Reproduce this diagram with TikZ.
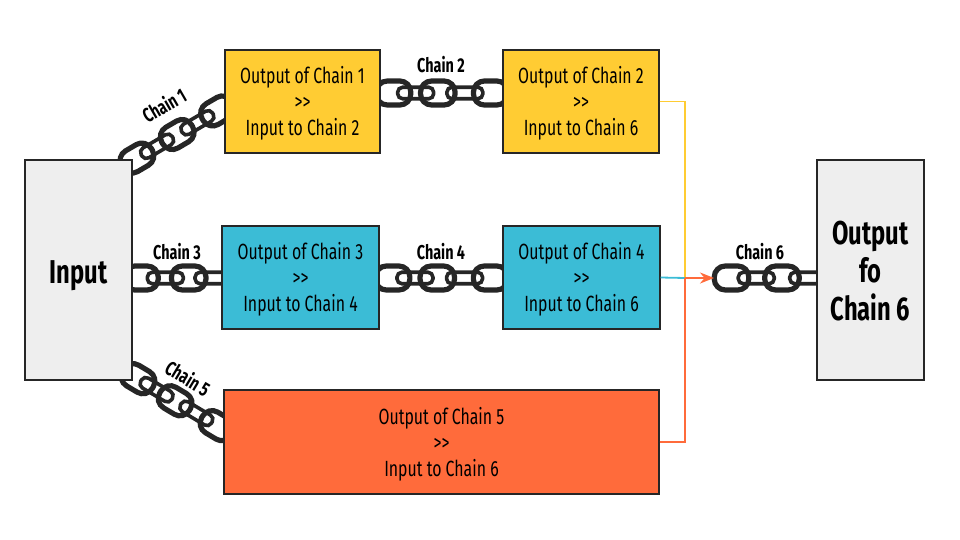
\documentclass[tikz,border=0pt]{standalone}
\usepackage{fontspec}
\setmainfont[FakeStretch=0.72]{Fira Sans}
\usetikzlibrary{positioning,arrows.meta}
\definecolor{chainyellow}{HTML}{FFCC33}
\definecolor{chainteal}{HTML}{3BBCD6}
\definecolor{chainorange}{HTML}{FF6B3B}
\definecolor{chaingrey}{HTML}{EEEEEE}
\definecolor{chaindark}{HTML}{262626}
\tikzset{
  stagebox/.style={
    draw=black!85, line width=1.2pt,
    inner sep=0pt, align=center,
    font=\fontsize{22}{26}\selectfont
  },
  endbox/.style={
    stagebox, fill=chaingrey,
    minimum width=107, minimum height=220,
    font=\fontsize{33}{38}\selectfont\bfseries
  },
  linkopen/.style={
    draw=chaindark, line width=5.2pt, rounded corners=11pt,
    minimum width=34.5, minimum height=24, inner sep=0pt
  },
  linkflat/.style={
    draw=chaindark, line width=3.6pt, rounded corners=5pt,
    minimum width=36, minimum height=11.5, inner sep=0pt
  },
  chainlabel/.style={font=\fontsize{20}{20}\selectfont\bfseries, inner sep=0pt},
  feed/.style={line width=1.8pt}
}
% three lines of a box, with room above the first
\newcommand{\stagetext}[2]{\rule{0pt}{21pt}#1\\>{}>\\#2}
% one chain: flat links and open links at positions along a line
\newcommand{\chainrun}[5]{
  \foreach \p [count=\i] in {#4}
    \path (#1) -- (#2) node[linkflat, sloped, pos=\p] (#3f\i) {};
  \foreach \p [count=\i] in {#5}
    \path (#1) -- (#2) node[linkopen, sloped, pos=\p] (#3o\i) {};
}
\begin{document}
\begin{tikzpicture}[x=1pt,y=-1pt]
\useasboundingbox (0,0) rectangle (960,540);
% chain ends
\coordinate (c1a) at (120,168);
\coordinate (c1b) at (226,106);
\coordinate (c2a) at (380,93);
\coordinate (c2b) at (503,93);
\coordinate (c3a) at (132,278);
\coordinate (c3b) at (222,278);
\coordinate (c4a) at (379,278);
\coordinate (c4b) at (503,278);
\coordinate (c5a) at (120,368);
\coordinate (c5b) at (226,431);
\coordinate (c6a) at (714,278);
\coordinate (c6b) at (817,278);
\chainrun{c1a}{c1b}{ca}{0.35,0.73}{0.16,0.54,0.92}
\chainrun{c2a}{c2b}{cb}{0.29,0.69}{0.11,0.47,0.9}
\chainrun{c3a}{c3b}{cc}{0.37,0.9}{0.1,0.63}
\chainrun{c4a}{c4b}{cd}{0.29,0.69}{0.11,0.47,0.9}
\chainrun{c5a}{c5b}{ce}{0.345,0.72}{0.17,0.52,0.915}
\chainrun{c6a}{c6b}{cf}{0.41,0.91}{0.17,0.66}
% boxes
\node[endbox, text height=27pt, text depth=0pt] (input) at (78.5,270) {Input};
\node[endbox] (output) at (870.5,270) {\rule{0pt}{26pt}Output\\fo\\Chain 6};
\node[stagebox, fill=chainyellow, minimum width=155, minimum height=103] (outa) at (302.5,101.5) {\stagetext{Output of Chain 1}{Input to Chain 2}};
\node[stagebox, fill=chainyellow, minimum width=156, minimum height=103] (outb) at (581,101.5) {\stagetext{Output of Chain 2}{Input to Chain 6}};
\node[stagebox, fill=chainteal, minimum width=157, minimum height=103] (outc) at (300.5,277.5) {\stagetext{Output of Chain 3}{Input to Chain 4}};
\node[stagebox, fill=chainteal, minimum width=157, minimum height=103] (outd) at (581.5,277.5) {\stagetext{Output of Chain 4}{Input to Chain 6}};
\node[stagebox, fill=chainorange, minimum width=435, minimum height=104] (oute) at (441.5,442) {\stagetext{Output of Chain 5}{Input to Chain 6}};
% chain names
\node[chainlabel, rotate=30] (la) at (164,105) {Chain 1};
\node[chainlabel] (lb) at (441,65) {Chain 2};
\node[chainlabel] (lc) at (177,252) {Chain 3};
\node[chainlabel] (ld) at (441,252) {Chain 4};
\node[chainlabel, rotate=-31] (le) at (188,378) {Chain 5};
\node[chainlabel] (lf) at (760,252) {Chain 6};
% feeds into chain 6
\coordinate (joint) at (685,278);
\draw[feed, chainyellow] (outb.east) -| (joint);
\draw[feed, chainteal] (outd.east) -- (joint);
\draw[feed, chainorange] (oute.east) -| (joint);
\draw[feed, chainorange, -{Stealth[length=14pt,width=11pt]}] (joint) -- (c6a);
\end{tikzpicture}
\end{document}
